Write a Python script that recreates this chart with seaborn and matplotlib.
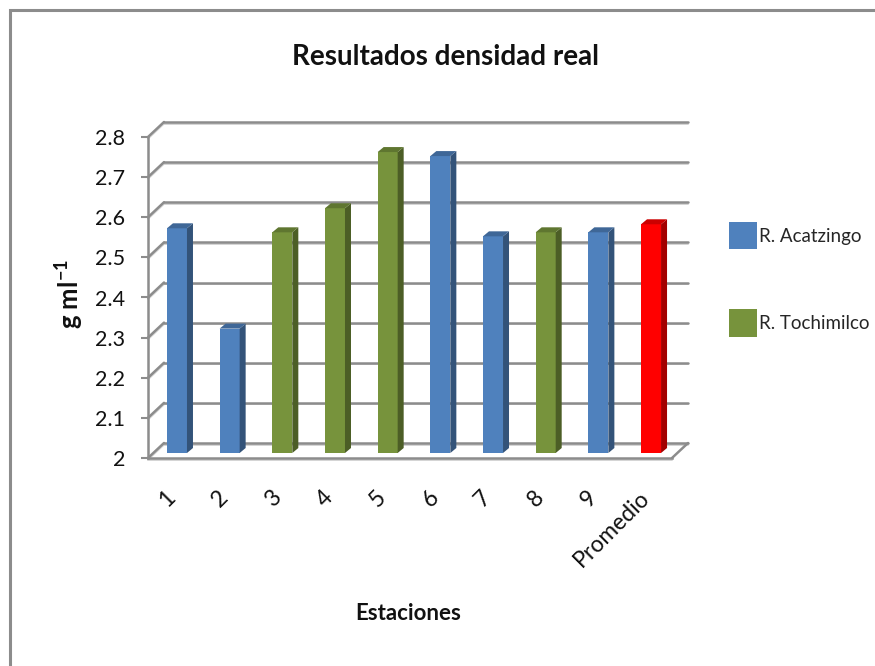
import numpy as np
import pandas as pd
import matplotlib
matplotlib.use("Agg")
import matplotlib.pyplot as plt
import seaborn as sns
from matplotlib.patches import Polygon, Rectangle, Patch
from matplotlib.lines import Line2D
from matplotlib.colors import to_rgb
from matplotlib.transforms import ScaledTranslation

# ---------------- data ----------------
estaciones = ["1", "2", "3", "4", "5", "6", "7", "8", "9", "Promedio"]
densidad = [2.56, 2.31, 2.55, 2.61, 2.75, 2.74, 2.54, 2.55, 2.55, 2.57]
grupos = ["R. Acatzingo", "R. Acatzingo", "R. Tochimilco", "R. Tochimilco",
          "R. Tochimilco", "R. Acatzingo", "R. Acatzingo", "R. Tochimilco",
          "R. Acatzingo", "Promedio"]
y_ticks = [2.0, 2.1, 2.2, 2.3, 2.4, 2.5, 2.6, 2.7, 2.8]
y_tick_labels = ["2", "2.1", "2.2", "2.3", "2.4", "2.5", "2.6", "2.7", "2.8"]
legend_series = ["R. Acatzingo", "R. Tochimilco"]
colores = {"R. Acatzingo": "#4F81BD", "R. Tochimilco": "#77933C", "Promedio": "#FF0000"}

titulo = "Resultados densidad real"
x_titulo = "Estaciones"
y_titulo = r"g ml$^{\mathbf{-1}}$"

# ---------------- style ----------------
sns.set_theme(style="white")
plt.rcParams["font.family"] = ["Lato", "DejaVu Sans"]
plt.rcParams["mathtext.fontset"] = "custom"
plt.rcParams["mathtext.bf"] = "Lato:bold"
plt.rcParams["mathtext.rm"] = "Lato"

W, H = 875, 666
fig = plt.figure(figsize=(W / 100, H / 100), dpi=100)
fig.patch.set_facecolor("white")
ax = fig.add_axes([148 / W, (H - 458) / H, 524 / W, 321 / H])
ax.set_facecolor("none")
ax.set_zorder(1)

df = pd.DataFrame({"Estación": estaciones, "Densidad": densidad, "Grupo": grupos})
sns.barplot(data=df, x="Estación", y="Densidad", hue="Grupo", palette=colores,
            order=estaciones, hue_order=list(colores.keys()), dodge=False,
            width=0.38, errorbar=None, saturation=1, legend=False, ax=ax,
            zorder=3, linewidth=0)

ax.set_xlim(-0.455, 9.493)
ax.set_ylim(2.0, 2.8)

GRID = "#8C8C8C"
SHADOW = "#D4D4D4"

# axes decoration
for s in ["top", "right"]:
    ax.spines[s].set_visible(False)
for s in ["left", "bottom"]:
    ax.spines[s].set_color(GRID)
    ax.spines[s].set_linewidth(1.8)
ax.set_yticks(y_ticks, y_tick_labels)
ax.tick_params(axis="y", left=True, length=5, width=1.5, color=GRID, pad=11.5,
               labelsize=15.5, labelcolor="#111111")
ax.tick_params(axis="x", length=0, pad=26, labelsize=16.5, labelcolor="#111111")
for lab in ax.get_xticklabels():
    lab.set_rotation(45)
    lab.set_ha("right")
    lab.set_va("center")
    lab.set_rotation_mode("anchor")
ax.set_xlabel("")
ax.set_ylabel("")
ax.grid(False)

# ---------- pseudo-3D geometry (in display pixels) ----------
to_fig = fig.transFigure.inverted()
T = ax.transData


def fig_pts(pts):
    return to_fig.transform(np.asarray(pts, dtype=float))


D = np.array([16.0, 15.0])       # wall depth
BAR_OFF = np.array([5.0, 5.0])   # bars' front face offset from front plane
BAR_D = np.array([6.0, 5.0])     # bar depth

x0, x1 = ax.get_xlim()
for yv in y_ticks:
    fl = T.transform((x0, yv))
    fr = T.transform((x1, yv))
    bl = fl + D
    br = fr + D
    for (a, b) in [(fl, bl), (bl, br)]:
        pts = fig_pts([a + [0, -1.6], b + [0, -1.6]])
        fig.add_artist(Line2D(pts[:, 0], pts[:, 1], color=SHADOW, lw=1.4,
                              transform=fig.transFigure, zorder=0.4))
        pts = fig_pts([a, b])
        fig.add_artist(Line2D(pts[:, 0], pts[:, 1], color=GRID, lw=1.8,
                              transform=fig.transFigure, zorder=0.5))

# floor right edge
fr0 = T.transform((x1, 2.0))
pts = fig_pts([fr0, fr0 + D])
fig.add_artist(Line2D(pts[:, 0], pts[:, 1], color=GRID, lw=1.8,
                      transform=fig.transFigure, zorder=0.5))
pts = fig_pts([T.transform((x0, 2.0)) + [0, -2], fr0 + [0, -2]])
fig.add_artist(Line2D(pts[:, 0], pts[:, 1], color=SHADOW, lw=1.4,
                      transform=fig.transFigure, zorder=0.4))

# bars: shift front faces and add side / top faces
shift = ScaledTranslation(BAR_OFF[0] / 100, BAR_OFF[1] / 100, fig.dpi_scale_trans)
for p in list(ax.patches):
    bx, bw, bh = p.get_x(), p.get_width(), p.get_height()
    if bh <= 0:
        continue
    top = p.get_y() + bh
    p.set_y(2.0)
    p.set_height(top - 2.0)
    p.set_transform(ax.transData + shift)
    p.set_clip_on(False)
    fc = np.array(to_rgb(p.get_facecolor()))
    lb = T.transform((bx, 2.0)) + BAR_OFF
    rt = T.transform((bx + bw, top)) + BAR_OFF
    side = [(rt[0], lb[1]), (rt[0], rt[1]), (rt[0] + BAR_D[0], rt[1] + BAR_D[1]),
            (rt[0] + BAR_D[0], lb[1] + BAR_D[1])]
    topf = [(lb[0], rt[1]), (rt[0], rt[1]), (rt[0] + BAR_D[0], rt[1] + BAR_D[1]),
            (lb[0] + BAR_D[0], rt[1] + BAR_D[1])]
    fig.add_artist(Polygon(fig_pts(side), closed=True, facecolor=fc * 0.64,
                           edgecolor="none", transform=fig.transFigure, zorder=2))
    fig.add_artist(Polygon(fig_pts(topf), closed=True, facecolor=fc * 0.8,
                           edgecolor="none", transform=fig.transFigure, zorder=2))

# ---------- texts ----------
fig.text(446 / W, 1 - 57 / H, titulo, ha="center", va="center",
         fontsize=20, fontweight="bold", color="#111111")
fig.text(408 / W, 1 - 614 / H, x_titulo, ha="center", va="center",
         fontsize=16, fontweight="bold", color="#111111")
fig.text(69 / W, 1 - 294 / H, y_titulo, ha="center", va="center", rotation=90,
         fontsize=18.5, fontweight="bold", color="#111111")

# ---------- legend ----------
handles = [Patch(facecolor=colores[s], edgecolor="none") for s in legend_series]
fig.legend(handles, legend_series, loc="upper left",
           bbox_to_anchor=(729 / W, 1 - 222 / H), bbox_transform=fig.transFigure,
           frameon=False, fontsize=13.5, handlelength=1.5, handleheight=1.87,
           handletextpad=0.12, labelspacing=3.2, borderpad=0, borderaxespad=0)

# ---------- outer border ----------
fig.add_artist(Rectangle((10 / W, -0.05), 1.2, 1 - 10 / H + 0.05, fill=False,
                         edgecolor="#8C8C8C", lw=2.2, transform=fig.transFigure,
                         zorder=10))

fig.savefig("out.png", dpi=100)
